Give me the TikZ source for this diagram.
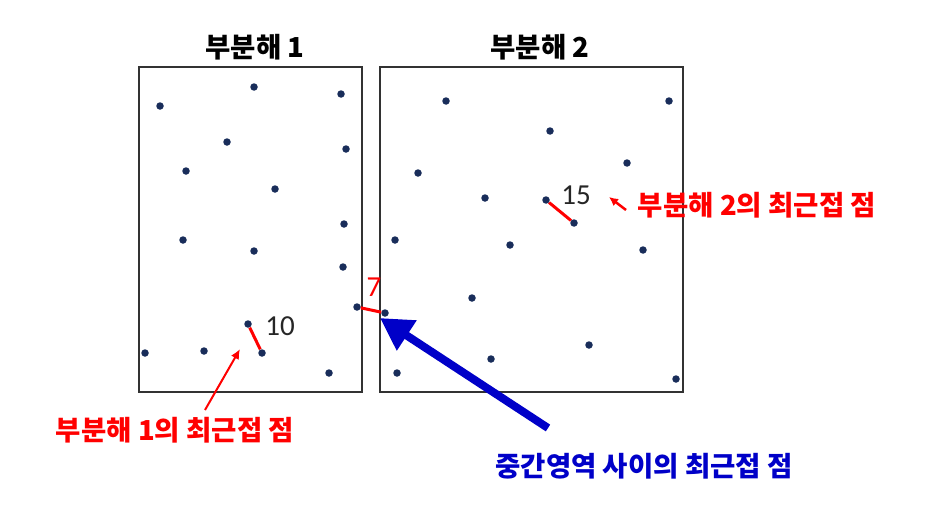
\documentclass[tikz,border=0pt]{standalone}
\usepackage{fontspec}
\usepackage{tikz}
\usetikzlibrary{arrows.meta}
\newfontfamily\kr{Noto Sans CJK KR}
\newfontfamily\numfont{Carlito}
\definecolor{dotblue}{RGB}{25,45,90}
\definecolor{boxgray}{RGB}{50,50,50}
\definecolor{lblred}{RGB}{255,0,0}
\definecolor{lblblue}{RGB}{0,0,200}

\tikzset{
  pt/.style={circle, fill=dotblue, inner sep=0pt, minimum size=7.5pt},
  title/.style={font=\kr\bfseries\fontsize{27.5}{30}\selectfont, text=black},
  redlbl/.style={font=\kr\bfseries\fontsize{27.5}{30}\selectfont, text=lblred},
  bluelbl/.style={font=\kr\bfseries\fontsize{27.5}{30}\selectfont, text=lblblue},
  numlbl/.style={font=\numfont\fontsize{29}{31}\selectfont, text=black!85}
}

\begin{document}
\begin{tikzpicture}[x=1pt,y=-1pt]
\useasboundingbox (0,0) rectangle (928,522);

% the two halves
\draw[boxgray, line width=2pt] (139,67) rectangle (362,392);
\draw[boxgray, line width=2pt] (380,67) rectangle (683,392);
\node[title] (t1) at (255,47) {부분해 1};
\node[title] (t2) at (540,47) {부분해 2};

% points of the left half
\foreach \n/\x/\y in {a1/160/106, a2/254/87, a3/341/94, a4/227/142, a5/346/149,
  a6/186/171, a7/275/189, a8/183/240, a9/254/251, a10/344/224, a11/343/267,
  a12/145/353, a13/204/351, a14/329/373}
  \node[pt] (\n) at (\x,\y) {};
\node[pt] (p10) at (248,324) {};
\node[pt] (q10) at (262,353) {};
\node[pt] (m1) at (357,307) {};

% points of the right half
\foreach \n/\x/\y in {b1/446/101, b2/669/101, b3/550/131, b4/627/163, b5/418/173,
  b6/485/198, b7/395/240, b8/510/245, b9/643/250, b10/472/298, b11/589/345,
  b12/491/359, b13/397/373, b14/676/379}
  \node[pt] (\n) at (\x,\y) {};
\node[pt] (p15) at (546,200) {};
\node[pt] (q15) at (574,223) {};
\node[pt] (m2) at (385,313) {};

% closest pairs
\draw[lblred, line width=3pt] (p10) -- (q10);
\draw[lblred, line width=3pt] (p15) -- (q15);
\draw[lblred, line width=3pt] (m1) -- (m2);
\node[numlbl] (d10) at (280,326) {10};
\node[numlbl] (d15) at (576,195) {15};
\node[numlbl, text=lblred] (d7) at (374,287) {7};

% labels
\node[redlbl] (l1) at (175,430) {부분해 1의 최근접 점};
\node[redlbl] (l2) at (757,205) {부분해 2의 최근접 점};
\node[bluelbl] (l3) at (644,466) {중간영역 사이의 최근접 점};

\coordinate (s1) at (205,410);
\coordinate (e1) at (240,349);
\draw[lblred, line width=2pt, -{Latex[length=10pt,width=9pt]}] (s1) -- (e1);
\coordinate (s2) at (626,210);
\coordinate (e2) at (609,197);
\draw[lblred, line width=2.5pt, -{Latex[length=9pt,width=9pt]}] (s2) -- (e2);
\coordinate (s3) at (548,428);
\coordinate (e3) at (380,318);
\draw[lblblue, line width=8pt, -{Triangle[length=32pt,width=34pt]}] (s3) -- (e3);
\end{tikzpicture}
\end{document}
